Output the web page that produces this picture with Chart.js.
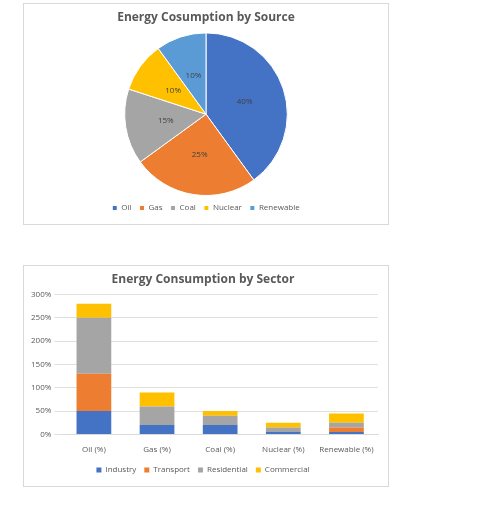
<!DOCTYPE html>
<html><head>
<script src="https://cdn.jsdelivr.net/npm/chart.js@4"></script>
<style>
body{margin:0;background:#fff;font-family:"Open Sans",sans-serif}
.box{position:absolute;left:23px;width:364px;height:220px;border:1px solid #d9d9d9;background:#fff}
</style></head><body>
<div class="box" style="top:3px"><canvas id="pie"></canvas></div>
<div class="box" style="top:265px"><canvas id="bar"></canvas></div>
<script>
const sources = ['Oil', 'Gas', 'Coal', 'Nuclear', 'Renewable'];
const shares = [40, 25, 15, 10, 10];
const sourceColors = ['#4472c4', '#ed7d31', '#a5a5a5', '#ffc000', '#5b9bd5'];

const sectorLabels = ['Oil (%)', 'Gas (%)', 'Coal (%)', 'Nuclear (%)', 'Renewable (%)'];
const industry = [50, 20, 20, 5, 5];
const transport = [80, 0, 0, 0, 10];
const residential = [120, 40, 20, 10, 10];
const commercial = [30, 30, 10, 10, 20];
const sectorColors = ['#4472c4', '#ed7d31', '#a5a5a5', '#ffc000'];

Chart.defaults.font.family = '"Open Sans", sans-serif';
Chart.defaults.color = '#595959';
Chart.defaults.animation = false;

const legendOpts = {
    position: 'bottom',
    labels: { boxWidth: 5, boxHeight: 5, font: { size: 8 }, padding: 8 }
};
const titleOpts = text => ({
    display: true, text, color: '#595959',
    font: { size: 12, weight: 'bold' }, padding: { top: 6, bottom: 8 }
});

const pieLabels = {
    id: 'pieLabels',
    afterDatasetsDraw(chart) {
        const ctx = chart.ctx;
        ctx.save();
        ctx.font = '8px "Open Sans", sans-serif';
        ctx.fillStyle = '#404040';
        ctx.textAlign = 'center';
        ctx.textBaseline = 'middle';
        chart.getDatasetMeta(0).data.forEach((arc, i) => {
            const p = arc.tooltipPosition();
            ctx.fillText(shares[i] + '%', p.x, p.y);
        });
        ctx.restore();
    }
};

new Chart(document.getElementById('pie'), {
    type: 'pie',
    data: {
        labels: sources,
        datasets: [{ data: shares, backgroundColor: sourceColors, borderColor: '#fff', borderWidth: 1 }]
    },
    options: {
        responsive: true,
        maintainAspectRatio: false,
        layout: { padding: { bottom: 2 } },
        plugins: { title: titleOpts('Energy Cosumption by Source'), legend: legendOpts, tooltip: { enabled: false } }
    },
    plugins: [pieLabels]
});

new Chart(document.getElementById('bar'), {
    type: 'bar',
    data: {
        labels: sectorLabels,
        datasets: [
            { label: 'Industry', data: industry, backgroundColor: sectorColors[0] },
            { label: 'Transport', data: transport, backgroundColor: sectorColors[1] },
            { label: 'Residential', data: residential, backgroundColor: sectorColors[2] },
            { label: 'Commercial', data: commercial, backgroundColor: sectorColors[3] }
        ]
    },
    options: {
        responsive: true,
        maintainAspectRatio: false,
        categoryPercentage: 0.55,
        barPercentage: 1,
        layout: { padding: { left: 4, right: 10, bottom: 2 } },
        scales: {
            x: { stacked: true, grid: { display: false }, border: { color: '#d9d9d9' }, ticks: { font: { size: 8 } } },
            y: {
                stacked: true, min: 0, max: 300,
                ticks: { stepSize: 50, font: { size: 8 }, callback: v => v + '%' },
                grid: { color: '#e0e0e0' }, border: { display: false }
            }
        },
        plugins: { title: titleOpts('Energy Consumption by Sector'), legend: legendOpts, tooltip: { enabled: false } }
    }
});
</script>
</body></html>
